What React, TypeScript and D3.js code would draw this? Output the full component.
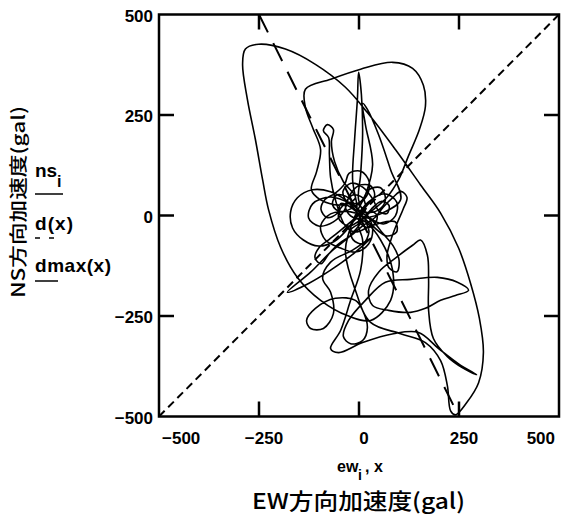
import React, { useRef, useEffect } from 'react';
import * as d3 from 'd3';

// EW / NS acceleration orbit (gal)
const ew = [
  -1, 19, 39, 29, -1, -24, -36, -64, -101, -126, -116, -71, -21, 19, 61, 91, 94, 64, 24, -6,
  -31, -61, -101, -139, -166, -171, -154, -116, -71, -34, -6, -16, -11, -4, -1, 6, 9, 4, -1, 16,
  49, 66, 54, 24, 9, -16, -46, -66, -56, -26, 4, 34, 69, 94, 91, 64, 29, -9, -34, -59,
  -71, -74, -76, -89, -79, -64, -69, -61, -39, -9, -46, -96, -119, -106, -96, -116, -134, -134, -71, 4,
  84, 134, 161, 166, 151, 124, 99, 69, 29, 4, -26, -51, -41, -6, 19, 34, 24, -9, -46, -84,
  -96, -71, -21, 9, -21, -71, -121, -179, -126, -71, -9, 29, -16, -71, -91, -71, -64, -89, -121, -131,
  -109, -59, -9, 9, 21, 9, -21, -39, -26, 16, 66, 129, 196, 246, 274, 241, 204, 166, 129, 74,
  34, 24, 49, 91, 134, 154, 171, 174, 174, 186, 221, 259, 294, 249, 199, 149, 86, 9, -51, -71,
  -46, -21, 4, 9, -1, 54, 104, 79, 49, 21, 9, 16, 34, 16, -9, -34, -9, 29, 104, 166,
  204, 221, 229, 241, 269, 299, 311, 301, 279, 249, 204, 154, 91, 21, -34, -109, -184, -251, -284, -291,
  -279, -259, -241, -226, -196, -154, -96, -29, 29, 79, 84, 54, 16, -21, -34, -16, 9, 16, -1,
  20, 40, 45, 30, 15, 25, 10, -15, -20, 0, 30, 55, 75, 70, 50, 35, 10, -20, -40, -30,
  -5, 20, 25, 5, -25, -35, -60, -85, -95, -80, -55, -45, -20, 5, 30, 60, 85, 100, 95, 75,
  70, 80, 95, 110, 120, 105, 85, 60, 40, 10, -20, -50, -75, -95, -110, -100, -75, -50, -20, 5,
];
const ns = [
  4, 24, 49, 74, 74, 49, 14, -16, -26, -6, 29, 46, 29, -1, -21, -1, 34, 54, 34, -1,
  -36, -64, -76, -61, -31, 9, 44, 64, 59, 39, 14, 89, 189, 289, 356, 301, 201, 101, 39, 9,
  14, 39, 69, 64, 39, 19, 9, 26, 51, 44, 4, -26, -51, -41, -16, -16, -26, -41, -26, 39,
  94, 151, 194, 211, 226, 214, 184, 134, 84, 44, 26, 39, 64, 109, 164, 219, 269, 314, 339, 364,
  381, 366, 324, 271, 214, 149, 89, 44, 9, -11, -26, -6, 24, 29, 4, -31, -71, -91, -81, -61,
  -26, 4, 9, -6, -49, -91, -141, -191, -169, -136, -91, -56, -86, -116, -156, -191, -244, -281, -281, -261,
  -231, -206, -211, -236, -279, -311, -319, -301, -261, -211, -166, -159, -154, -166, -186, -199, -211, -231, -241, -236,
  -224, -186, -141, -106, -74, -61, -99, -161, -236, -306, -351, -379, -396, -369, -331, -291, -294, -316, -341, -331,
  -286, -211, -136, -61, -16, 4, 39, 114, 201, 264, 279, 226, 126, 51, 1, -86, -186, -266, -294, -316,
  -361, -424, -486, -496, -466, -416, -341, -256, -169, -81, 6, 76, 164, 256, 319, 376, 414, 426, 414, 376,
  289, 189, 89, 14, -79, -154, -211, -249, -261, -211, -136, -61, -16, -1, 26, 51, 44, 14, -11,
  -30, -20, 0, 10, -5, -40, -70, -60, -35, -20, 15, 35, 25, 5, 10, 40, 70, 80, 60, 35,
  30, 50, 85, 110, 105, 80, 55, 40, 15, -5, 5, 30, 20, 0, -10, -45, -75, -110, -140, -130,
  -100, -60, -20, 15, 45, 60, 45, 20, -5, -25, -50, -70, -95, -120, -105, -80, -60, -40, -15, 5,
];

const tickValues = [-500, -250, 0, 250, 500];
const tickLabels = ['\u2212500', '\u2212250', '0', '250', '500'];
const innerTicks = [-250, 0, 250];

// d(x) = x  (short dashes), dmax(x) = -2x  (long dashes)
const dX = [-500, 500];
const dmaxX = [-250, 250];

const App = () => {
  const chartRef = useRef<SVGSVGElement>(null);

  useEffect(() => {
    const width = 571;
    const height = 517;
    const left = 159, right = 559, top = 14.5, bottom = 416.5;

    const x = d3.scaleLinear().domain([-500, 500]).range([left, right]);
    const y = d3.scaleLinear().domain([-500, 500]).range([bottom, top]);

    const svg = d3.select(chartRef.current);
    svg.selectAll('*').remove();
    svg.attr('width', width).attr('height', height);

    svg.append('rect').attr('width', width).attr('height', height).attr('fill', '#fff');

    // reference lines
    svg.append('path')
      .attr('d', d3.line<number>().x(v => x(v)).y(v => y(v))(dX))
      .attr('fill', 'none').attr('stroke', '#000').attr('stroke-width', 2)
      .attr('stroke-dasharray', '8,5');
    svg.append('path')
      .attr('d', d3.line<number>().x(v => x(v)).y(v => y(-2 * v))(dmaxX))
      .attr('fill', 'none').attr('stroke', '#000').attr('stroke-width', 2)
      .attr('stroke-dasharray', '20,12');

    // orbit
    const pts = ew.map((e, i) => [e, ns[i]] as [number, number]);
    svg.append('path')
      .attr('d', d3.line<[number, number]>()
        .x(d => x(d[0])).y(d => y(d[1]))
        .curve(d3.curveCatmullRom.alpha(0.5))(pts))
      .attr('fill', 'none').attr('stroke', '#000').attr('stroke-width', 1.6)
      .attr('stroke-linejoin', 'round');

    // frame + inside ticks on all sides
    svg.append('rect')
      .attr('x', left).attr('y', top)
      .attr('width', right - left).attr('height', bottom - top)
      .attr('fill', 'none').attr('stroke', '#000').attr('stroke-width', 2.5);

    const tk = svg.append('g').attr('stroke', '#000').attr('stroke-width', 2.5);
    innerTicks.forEach(v => {
      tk.append('line').attr('x1', x(v)).attr('x2', x(v)).attr('y1', bottom).attr('y2', bottom - 15);
      tk.append('line').attr('x1', x(v)).attr('x2', x(v)).attr('y1', top).attr('y2', top + 15);
      tk.append('line').attr('y1', y(v)).attr('y2', y(v)).attr('x1', left).attr('x2', left + 15);
      tk.append('line').attr('y1', y(v)).attr('y2', y(v)).attr('x1', right).attr('x2', right - 15);
    });

    const font = '"Liberation Sans", Arial, sans-serif';

    // x tick labels
    tickValues.forEach((v, i) => {
      const last = i === tickValues.length - 1;
      svg.append('text')
        .attr('x', i === 0 ? left + 3 : last ? right - 4 : x(v) + 5)
        .attr('y', 444)
        .attr('text-anchor', i === 0 ? 'start' : last ? 'end' : 'middle')
        .attr('font-family', font).attr('font-weight', 'bold').attr('font-size', 17)
        .text(tickLabels[i]);
    });

    // y tick labels
    tickValues.forEach((v, i) => {
      svg.append('text')
        .attr('x', 153)
        .attr('y', y(v) + 7)
        .attr('text-anchor', 'end')
        .attr('font-family', font).attr('font-weight', 'bold').attr('font-size', 17)
        .text(tickLabels[i]);
    });

    // x axis title
    const xt = svg.append('text')
      .attr('font-family', font).attr('font-weight', 'bold').attr('font-size', 16);
    xt.append('tspan').attr('x', 337).attr('y', 472).text('ew');
    xt.append('tspan').attr('x', 358).attr('y', 480).attr('font-size', 14).text('i');
    xt.append('tspan').attr('x', 365).attr('y', 472).text(', x');

    svg.append('text')
      .attr('x', 252).attr('y', 509)
      .attr('textLength', 213).attr('lengthAdjust', 'spacingAndGlyphs')
      .attr('font-family', '"Noto Sans CJK JP", sans-serif').attr('font-size', 22)
      .attr('font-weight', 500)
      .text('EW方向加速度(gal)');

    // y axis title
    svg.append('text')
      .attr('transform', 'translate(25,298) rotate(-90)')
      .attr('textLength', 192).attr('lengthAdjust', 'spacingAndGlyphs')
      .attr('font-family', '"Noto Sans CJK JP", sans-serif').attr('font-size', 18)
      .attr('font-weight', 500)
      .text('NS方向加速度(gal)');

    // Mathcad trace labels on the y axis
    const lg = svg.append('g')
      .attr('font-family', font).attr('font-weight', 'bold').attr('font-size', 19);
    const nsT = lg.append('text');
    nsT.append('tspan').attr('x', 35).attr('y', 177).text('ns');
    nsT.append('tspan').attr('x', 57).attr('y', 187).attr('font-size', 16).text('i');
    lg.append('line').attr('x1', 35).attr('x2', 63).attr('y1', 194).attr('y2', 194)
      .attr('stroke', '#000').attr('stroke-width', 1.5);

    lg.append('text').attr('x', 35).attr('y', 230)
      .attr('textLength', 38).attr('lengthAdjust', 'spacing').text('d(x)');
    lg.append('line').attr('x1', 35).attr('x2', 56).attr('y1', 238).attr('y2', 238)
      .attr('stroke', '#000').attr('stroke-width', 1.5).attr('stroke-dasharray', '5,9');

    lg.append('text').attr('x', 35).attr('y', 272)
      .attr('textLength', 76).attr('lengthAdjust', 'spacing').text('dmax(x)');
    lg.append('line').attr('x1', 35).attr('x2', 58).attr('y1', 281).attr('y2', 281)
      .attr('stroke', '#000').attr('stroke-width', 1.5);
  }, []);

  return (
    <svg ref={chartRef} style={{ position: 'absolute', left: 0, top: 0, display: 'block' }}></svg>
  );
};

export default App;
